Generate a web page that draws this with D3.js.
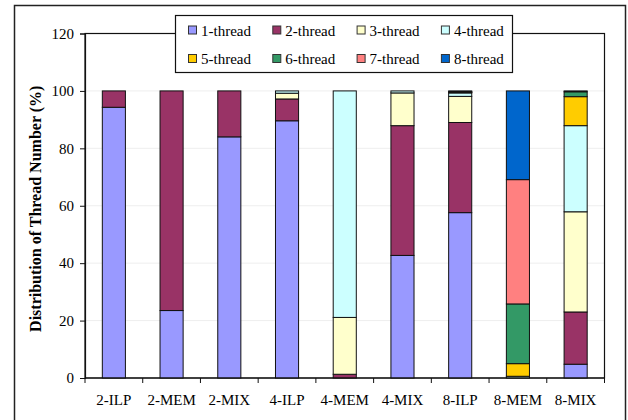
<!DOCTYPE html>
<html>
<head>
<meta charset="utf-8">
<script src="https://cdn.jsdelivr.net/npm/d3@7"></script>
<style>
  body { margin: 0; background: #fff; }
</style>
</head>
<body>
<div id="vis"></div>
<script>
// data
const categories = ["2-ILP", "2-MEM", "2-MIX", "4-ILP", "4-MEM", "4-MIX", "8-ILP", "8-MEM", "8-MIX"];
const seriesNames = ["1-thread", "2-thread", "3-thread", "4-thread", "5-thread", "6-thread", "7-thread", "8-thread"];
const colors = ["#9999FF", "#993366", "#FFFFCC", "#CCFFFF", "#FFCC00", "#339966", "#FF8080", "#0066CC"];

const t1 = [94.3, 23.5, 84.0, 89.6, 0, 42.7, 57.6, 0, 4.8];
const t2 = [5.7, 76.5, 16.0, 7.6, 1.3, 45.2, 31.4, 0, 18.2];
const t3 = [0, 0, 0, 2.0, 19.8, 11.4, 9.1, 0, 34.9];
const t4 = [0, 0, 0, 0.8, 78.9, 0.7, 1.2, 0.6, 30.0];
const t5 = [0, 0, 0, 0, 0, 0, 0.2, 4.4, 10.1];
const t6 = [0, 0, 0, 0, 0, 0, 0.1, 20.8, 1.7];
const t7 = [0, 0, 0, 0, 0, 0, 0.1, 43.3, 0];
const t8 = [0, 0, 0, 0, 0, 0, 0.3, 30.9, 0.3];
const yTicks = [0, 20, 40, 60, 80, 100, 120];

const FONT = "\"Liberation Serif\"";
const WIDTH = 628, HEIGHT = 420;
const svg = d3.select("#vis").append("svg")
  .attr("width", WIDTH).attr("height", HEIGHT);

const plot = { left: 85, right: 604.5, top: 33.5, bottom: 378 };

// outer frame
svg.append("rect")
  .attr("x", 14.5).attr("y", 5.5)
  .attr("width", 611).attr("height", 430)
  .attr("fill", "none").attr("stroke", "#222").attr("stroke-width", 1.5);

const x = d3.scaleBand().domain(categories).range([plot.left, plot.right]).paddingInner(0.6).paddingOuter(0.3);
const xEdge = d3.scaleLinear().domain([0, categories.length]).range([plot.left, plot.right]);
const y = d3.scaleLinear().domain([0, 120]).range([plot.bottom, plot.top]);

// gridlines
svg.append("g").selectAll("line")
  .data(yTicks.slice(1, -1))
  .join("line")
  .attr("x1", plot.left).attr("x2", plot.right)
  .attr("y1", d => y(d)).attr("y2", d => y(d))
  .attr("stroke", "#eeeeee").attr("stroke-width", 1);

// plot box
svg.append("rect")
  .attr("x", plot.left).attr("y", plot.top)
  .attr("width", plot.right - plot.left).attr("height", plot.bottom - plot.top)
  .attr("fill", "none").attr("stroke", "#111").attr("stroke-width", 1.2);

// stacked bars
const rows = categories.map((c, i) => {
  const r = { cat: c };
  [t1, t2, t3, t4, t5, t6, t7, t8].forEach((arr, k) => { r[seriesNames[k]] = arr[i]; });
  return r;
});
const stacked = d3.stack().keys(seriesNames)(rows);

svg.append("g").selectAll("g")
  .data(stacked)
  .join("g")
  .attr("fill", (d, i) => colors[i])
  .selectAll("rect")
  .data(d => d.filter(s => s[1] - s[0] > 0))
  .join("rect")
  .attr("x", d => x(d.data.cat))
  .attr("width", x.bandwidth())
  .attr("y", d => y(d[1]))
  .attr("height", d => y(d[0]) - y(d[1]))
  .attr("stroke", "#111")
  .attr("stroke-width", 1);

// y axis
const yAxis = svg.append("g")
  .attr("transform", `translate(${plot.left},0)`)
  .call(d3.axisLeft(y).tickValues(yTicks).tickSize(5).tickPadding(6));
yAxis.select(".domain").attr("stroke", "#111").attr("stroke-width", 1.2);
yAxis.selectAll("line").attr("stroke", "#111");
yAxis.selectAll("text").attr("fill", "#000")
  .style("font-family", FONT).style("font-size", "15px");

// x axis: ticks at category boundaries
const xAxis = svg.append("g")
  .attr("transform", `translate(0,${plot.bottom})`);
xAxis.append("path")
  .attr("d", `M${plot.left},0H${plot.right}`)
  .attr("stroke", "#111").attr("stroke-width", 1.2);
xAxis.selectAll("line")
  .data(d3.range(categories.length + 1))
  .join("line")
  .attr("x1", d => xEdge(d)).attr("x2", d => xEdge(d))
  .attr("y1", 0).attr("y2", 5)
  .attr("stroke", "#111");
xAxis.selectAll("text")
  .data(categories)
  .join("text")
  .attr("x", d => x(d) + x.bandwidth() / 2)
  .attr("y", 27)
  .attr("text-anchor", "middle")
  .style("font-family", FONT).style("font-size", "15px")
  .text(d => d);

// y title
svg.append("text")
  .attr("transform", `translate(41,${(plot.top + plot.bottom) / 2 + 3}) rotate(-90)`)
  .attr("text-anchor", "middle")
  .style("font-family", FONT).style("font-size", "16px")
  .style("font-weight", "bold")
  .text("Distribution of Thread Number (%)");

// legend
const legend = svg.append("g");
legend.append("rect")
  .attr("x", 175.5).attr("y", 15.5)
  .attr("width", 337).attr("height", 57)
  .attr("fill", "#fff").attr("stroke", "#111").attr("stroke-width", 1.2);

const items = legend.selectAll("g.item")
  .data(seriesNames)
  .join("g")
  .attr("class", "item")
  .attr("transform", (d, i) => `translate(${188 + (i % 4) * 84.3},${i < 4 ? 30.5 : 59})`);
items.append("rect")
  .attr("x", 0.5).attr("y", -4.5)
  .attr("width", 8).attr("height", 8)
  .attr("fill", (d, i) => colors[i])
  .attr("stroke", "#333").attr("stroke-width", 1);
items.append("text")
  .attr("x", 13).attr("y", 5)
  .style("font-family", FONT).style("font-size", "15px")
  .text(d => d);
</script>
</body>
</html>
